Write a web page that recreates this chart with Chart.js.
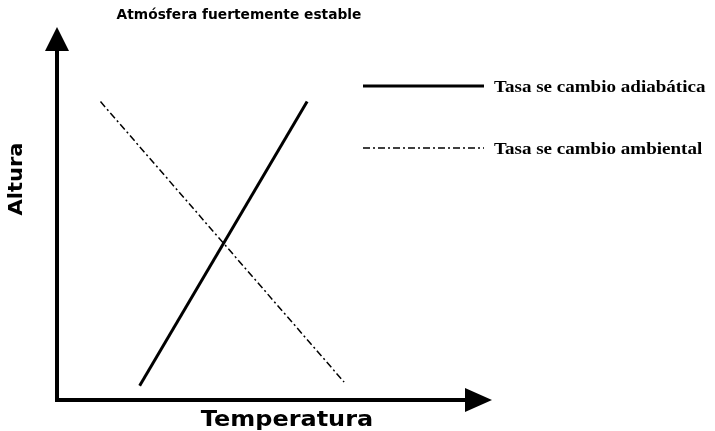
<!DOCTYPE html>
<html>
<head>
<meta charset="utf-8">
<script src="https://cdn.jsdelivr.net/npm/chart.js@4/dist/chart.umd.min.js"></script>
<style>
  html, body { margin: 0; padding: 0; background: #fff; }
  #wrap { width: 715px; height: 431px; }
</style>
</head>
<body>
<div id="wrap"><canvas id="c" width="715" height="431"></canvas></div>
<script>
// Atmósfera fuertemente estable - esquema de tasas de cambio

const chartTitle = 'Atmósfera fuertemente estable';
const xTitle = 'Temperatura';
const yTitle = 'Altura';

const seriesLabels = ['Tasa se cambio adiabática', 'Tasa se cambio ambiental'];

// temperatura / altura (unidades arbitrarias, 0-100)
const adiabaticaTemp = [19, 57.5];
const adiabaticaAlt = [3.8, 80];
const ambientalTemp = [10, 66];
const ambientalAlt = [80, 4.8];

const toPoints = (xs, ys) => xs.map((x, i) => ({ x, y: ys[i] }));

// texto ensanchado un poco, como en el original escaneado
function wideText(ctx, text, x, y, sx) {
  ctx.save();
  ctx.translate(x, y);
  ctx.scale(sx, 1);
  ctx.fillText(text, 0, 0);
  ctx.restore();
}

// ejes con flechas, título y leyenda dibujados a mano
const sketchPlugin = {
  id: 'sketch',
  afterDraw(chart) {
    const { ctx, chartArea: a } = chart;
    ctx.save();
    ctx.fillStyle = '#000';
    ctx.strokeStyle = '#000';

    // ejes
    ctx.lineWidth = 4;
    ctx.beginPath();
    ctx.moveTo(a.left, a.top + 18);
    ctx.lineTo(a.left, a.bottom);
    ctx.lineTo(a.right - 20, a.bottom);
    ctx.stroke();

    // flecha arriba
    ctx.beginPath();
    ctx.moveTo(a.left, a.top);
    ctx.lineTo(a.left - 12, a.top + 24);
    ctx.lineTo(a.left + 12, a.top + 24);
    ctx.closePath();
    ctx.fill();

    // flecha derecha
    ctx.beginPath();
    ctx.moveTo(a.right, a.bottom);
    ctx.lineTo(a.right - 27, a.bottom - 12);
    ctx.lineTo(a.right - 27, a.bottom + 12);
    ctx.closePath();
    ctx.fill();

    // títulos
    ctx.textAlign = 'center';
    ctx.textBaseline = 'middle';
    ctx.font = 'bold 13.5px "DejaVu Sans"';
    wideText(ctx, chartTitle, 239, 15, 1.02);

    ctx.font = 'bold 22px "DejaVu Sans"';
    wideText(ctx, xTitle, 287, 420, 1.09);

    ctx.save();
    ctx.translate(17, 179);
    ctx.rotate(-Math.PI / 2);
    ctx.font = 'bold 20px "DejaVu Sans"';
    wideText(ctx, yTitle, 0, 0, 1.05);
    ctx.restore();

    // leyenda
    const rows = [88, 150];
    chart.data.datasets.forEach((ds, i) => {
      const y = rows[i];
      ctx.lineWidth = i === 0 ? 3 : 1.5;
      ctx.setLineDash(ds.borderDash || []);
      ctx.beginPath();
      ctx.moveTo(363, y - 2);
      ctx.lineTo(484, y - 2);
      ctx.stroke();
      ctx.setLineDash([]);
      ctx.textAlign = 'left';
      ctx.font = 'bold 17px "Liberation Serif"';
      wideText(ctx, ds.label, 494, y, 1.12);
    });
    ctx.restore();
  },
};

new Chart(document.getElementById('c'), {
  type: 'line',
  data: {
    datasets: [
      {
        label: seriesLabels[0],
        data: toPoints(adiabaticaTemp, adiabaticaAlt),
        borderColor: '#000',
        borderWidth: 3,
        pointRadius: 0,
      },
      {
        label: seriesLabels[1],
        data: toPoints(ambientalTemp, ambientalAlt),
        borderColor: '#000',
        borderWidth: 1.5,
        borderDash: [7, 3, 2, 3],
        pointRadius: 0,
      },
    ],
  },
  options: {
    responsive: false,
    animation: false,
    layout: { padding: { left: 57, right: 223, top: 27, bottom: 31 } },
    scales: {
      x: { type: 'linear', min: 0, max: 100, display: false },
      y: { type: 'linear', min: 0, max: 100, display: false },
    },
    plugins: {
      legend: { display: false },
      tooltip: { enabled: false },
    },
  },
  plugins: [sketchPlugin],
});
</script>
</body>
</html>
